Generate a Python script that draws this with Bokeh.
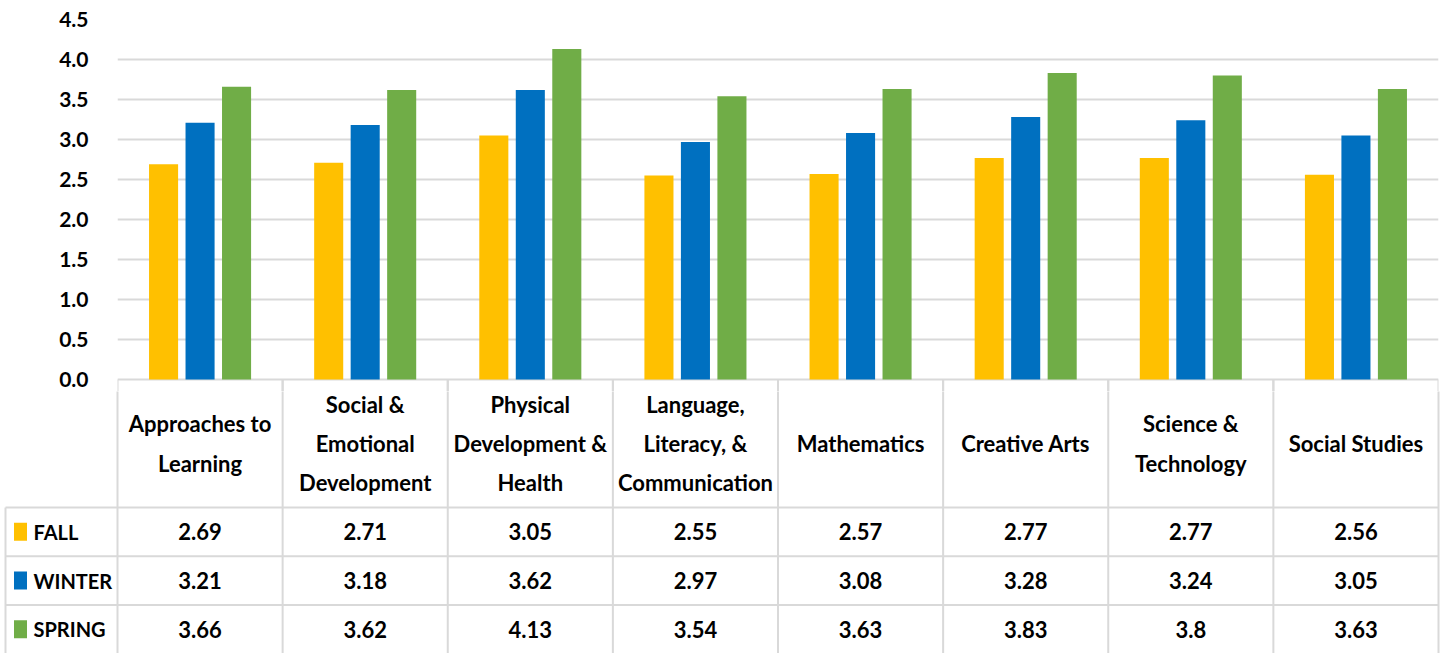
from bokeh.plotting import figure
from bokeh.models import FactorRange, Range1d, FixedTicker, NumeralTickFormatter, ColumnDataSource
from bokeh.transform import dodge
from bokeh.core.properties import value
from bokeh.embed import file_html
from bokeh.resources import INLINE

# ---------------- data ----------------
categories = ["Approaches to Learning", "Social & Emotional Development",
              "Physical Development & Health", "Language, Literacy, & Communication",
              "Mathematics", "Creative Arts", "Science & Technology", "Social Studies"]
header_labels = ["Approaches to\nLearning", "Social &\nEmotional\nDevelopment",
                 "Physical\nDevelopment &\nHealth", "Language,\nLiteracy, &\nCommunication",
                 "Mathematics", "Creative Arts", "Science &\nTechnology", "Social Studies"]
series_names = ["FALL", "WINTER", "SPRING"]
fall = [2.69, 2.71, 3.05, 2.55, 2.57, 2.77, 2.77, 2.56]
winter = [3.21, 3.18, 3.62, 2.97, 3.08, 3.28, 3.24, 3.05]
spring = [3.66, 3.62, 4.13, 3.54, 3.63, 3.83, 3.8, 3.63]
colors = ["#FFC000", "#0070C0", "#70AD47"]
y_ticks = [0.0, 0.5, 1.0, 1.5, 2.0, 2.5, 3.0, 3.5, 4.0, 4.5]

FONT = "Lato"
GRID = "#d9d9d9"

W = 1443
LEFT = 117
RIGHT = 5
cw = (W - LEFT - RIGHT) / len(categories)
PX_PER_UNIT = 80.0          # vertical pixels per 1.0 on the value axis
EXTRA = 12                  # px of table header drawn inside the chart figure

# ---------------- bar chart ----------------
src = ColumnDataSource(dict(cat=categories, FALL=fall, WINTER=winter, SPRING=spring))

p1 = figure(width=W, height=379 + EXTRA, x_range=FactorRange(*categories),
            y_range=Range1d(-EXTRA / PX_PER_UNIT, 4.5), output_backend="svg",
            toolbar_location=None,
            min_border_left=LEFT, min_border_right=RIGHT, min_border_top=19,
            min_border_bottom=0, x_axis_location=None)
offsets = [-0.221, 0.0, 0.221]
for name, col, off in zip(series_names, colors, offsets):
    p1.vbar(x=dodge("cat", off, range=p1.x_range), top=name, width=0.176,
            source=src, fill_color=col, line_color=None)

# top part of the table's column dividers
bsrc = ColumnDataSource(dict(cat=categories, y0=[0.0] * len(categories),
                             y1=[-EXTRA / PX_PER_UNIT] * len(categories)))
for edge in (-0.5, 0.5):
    p1.segment(x0=dodge("cat", edge, range=p1.x_range), y0="y0",
               x1=dodge("cat", edge, range=p1.x_range), y1="y1",
               source=bsrc, line_color=GRID, line_width=2)

p1.yaxis.ticker = FixedTicker(ticks=y_ticks)
p1.yaxis.formatter = NumeralTickFormatter(format="0.0")
p1.yaxis.major_label_text_font = FONT
p1.yaxis.major_label_text_font_style = "bold"
p1.yaxis.major_label_text_font_size = "21px"
p1.yaxis.major_label_text_color = "black"
p1.yaxis.axis_line_color = None
p1.yaxis.major_tick_line_color = None
p1.yaxis.minor_tick_line_color = None
p1.yaxis.major_label_standoff = 23
p1.xgrid.grid_line_color = None
p1.ygrid.grid_line_color = GRID
p1.ygrid.grid_line_width = 2
p1.outline_line_color = None

# ---------------- data table ----------------
ROW = 48.7
H2 = 653 - 379 - EXTRA
HEADER = 128 / ROW
n = len(categories)
p2 = figure(width=W, height=H2, x_range=Range1d(-LEFT / cw, (W - LEFT) / cw),
            y_range=Range1d((H2 + EXTRA) / ROW, EXTRA / ROW), output_backend="svg",
            toolbar_location=None, min_border=0,
            x_axis_location=None, y_axis_location=None)
p2.grid.visible = False
p2.outline_line_color = None

legend_left = -(LEFT - 5) / cw
# vertical lines
x0s, y0s, x1s, y1s = [], [], [], []
for i in range(n + 1):
    x0s.append(i); y0s.append(0); x1s.append(i); y1s.append(HEADER + 3)
x0s.append(legend_left); y0s.append(HEADER); x1s.append(legend_left); y1s.append(HEADER + 3)
# horizontal lines
for r in range(3):
    x0s.append(legend_left); y0s.append(HEADER + r); x1s.append(n); y1s.append(HEADER + r)
p2.segment(x0=x0s, y0=y0s, x1=x1s, y1=y1s, line_color=GRID, line_width=2)

centers = [i + 0.5 for i in range(n)]
p2.text(x=centers, y=[HEADER / 2] * n, text=header_labels, text_align="center",
        text_baseline="middle", text_font=value(FONT), text_font_style="bold",
        text_font_size="22px", text_line_height=1.45, text_color="black")

for r, (name, col, vals) in enumerate(zip(series_names, colors, [fall, winter, spring])):
    yc = HEADER + r + 0.5
    p2.text(x=centers, y=[yc] * n, text=[f"{v:g}" for v in vals], text_align="center",
            text_baseline="middle", text_font=value(FONT), text_font_style="bold",
            text_font_size="22px", text_color="black")
    p2.rect(x=[legend_left + 15 / cw], y=[yc], width=13, height=18,
            width_units="screen", height_units="screen", fill_color=col, line_color=None)
    p2.text(x=[legend_left + 28 / cw], y=[yc], text=[name], text_align="left",
            text_baseline="middle", text_font=value(FONT), text_font_style="bold",
            text_font_size="20px", text_color="black")

open("out.html", "w").write(file_html([p1, p2], INLINE))
